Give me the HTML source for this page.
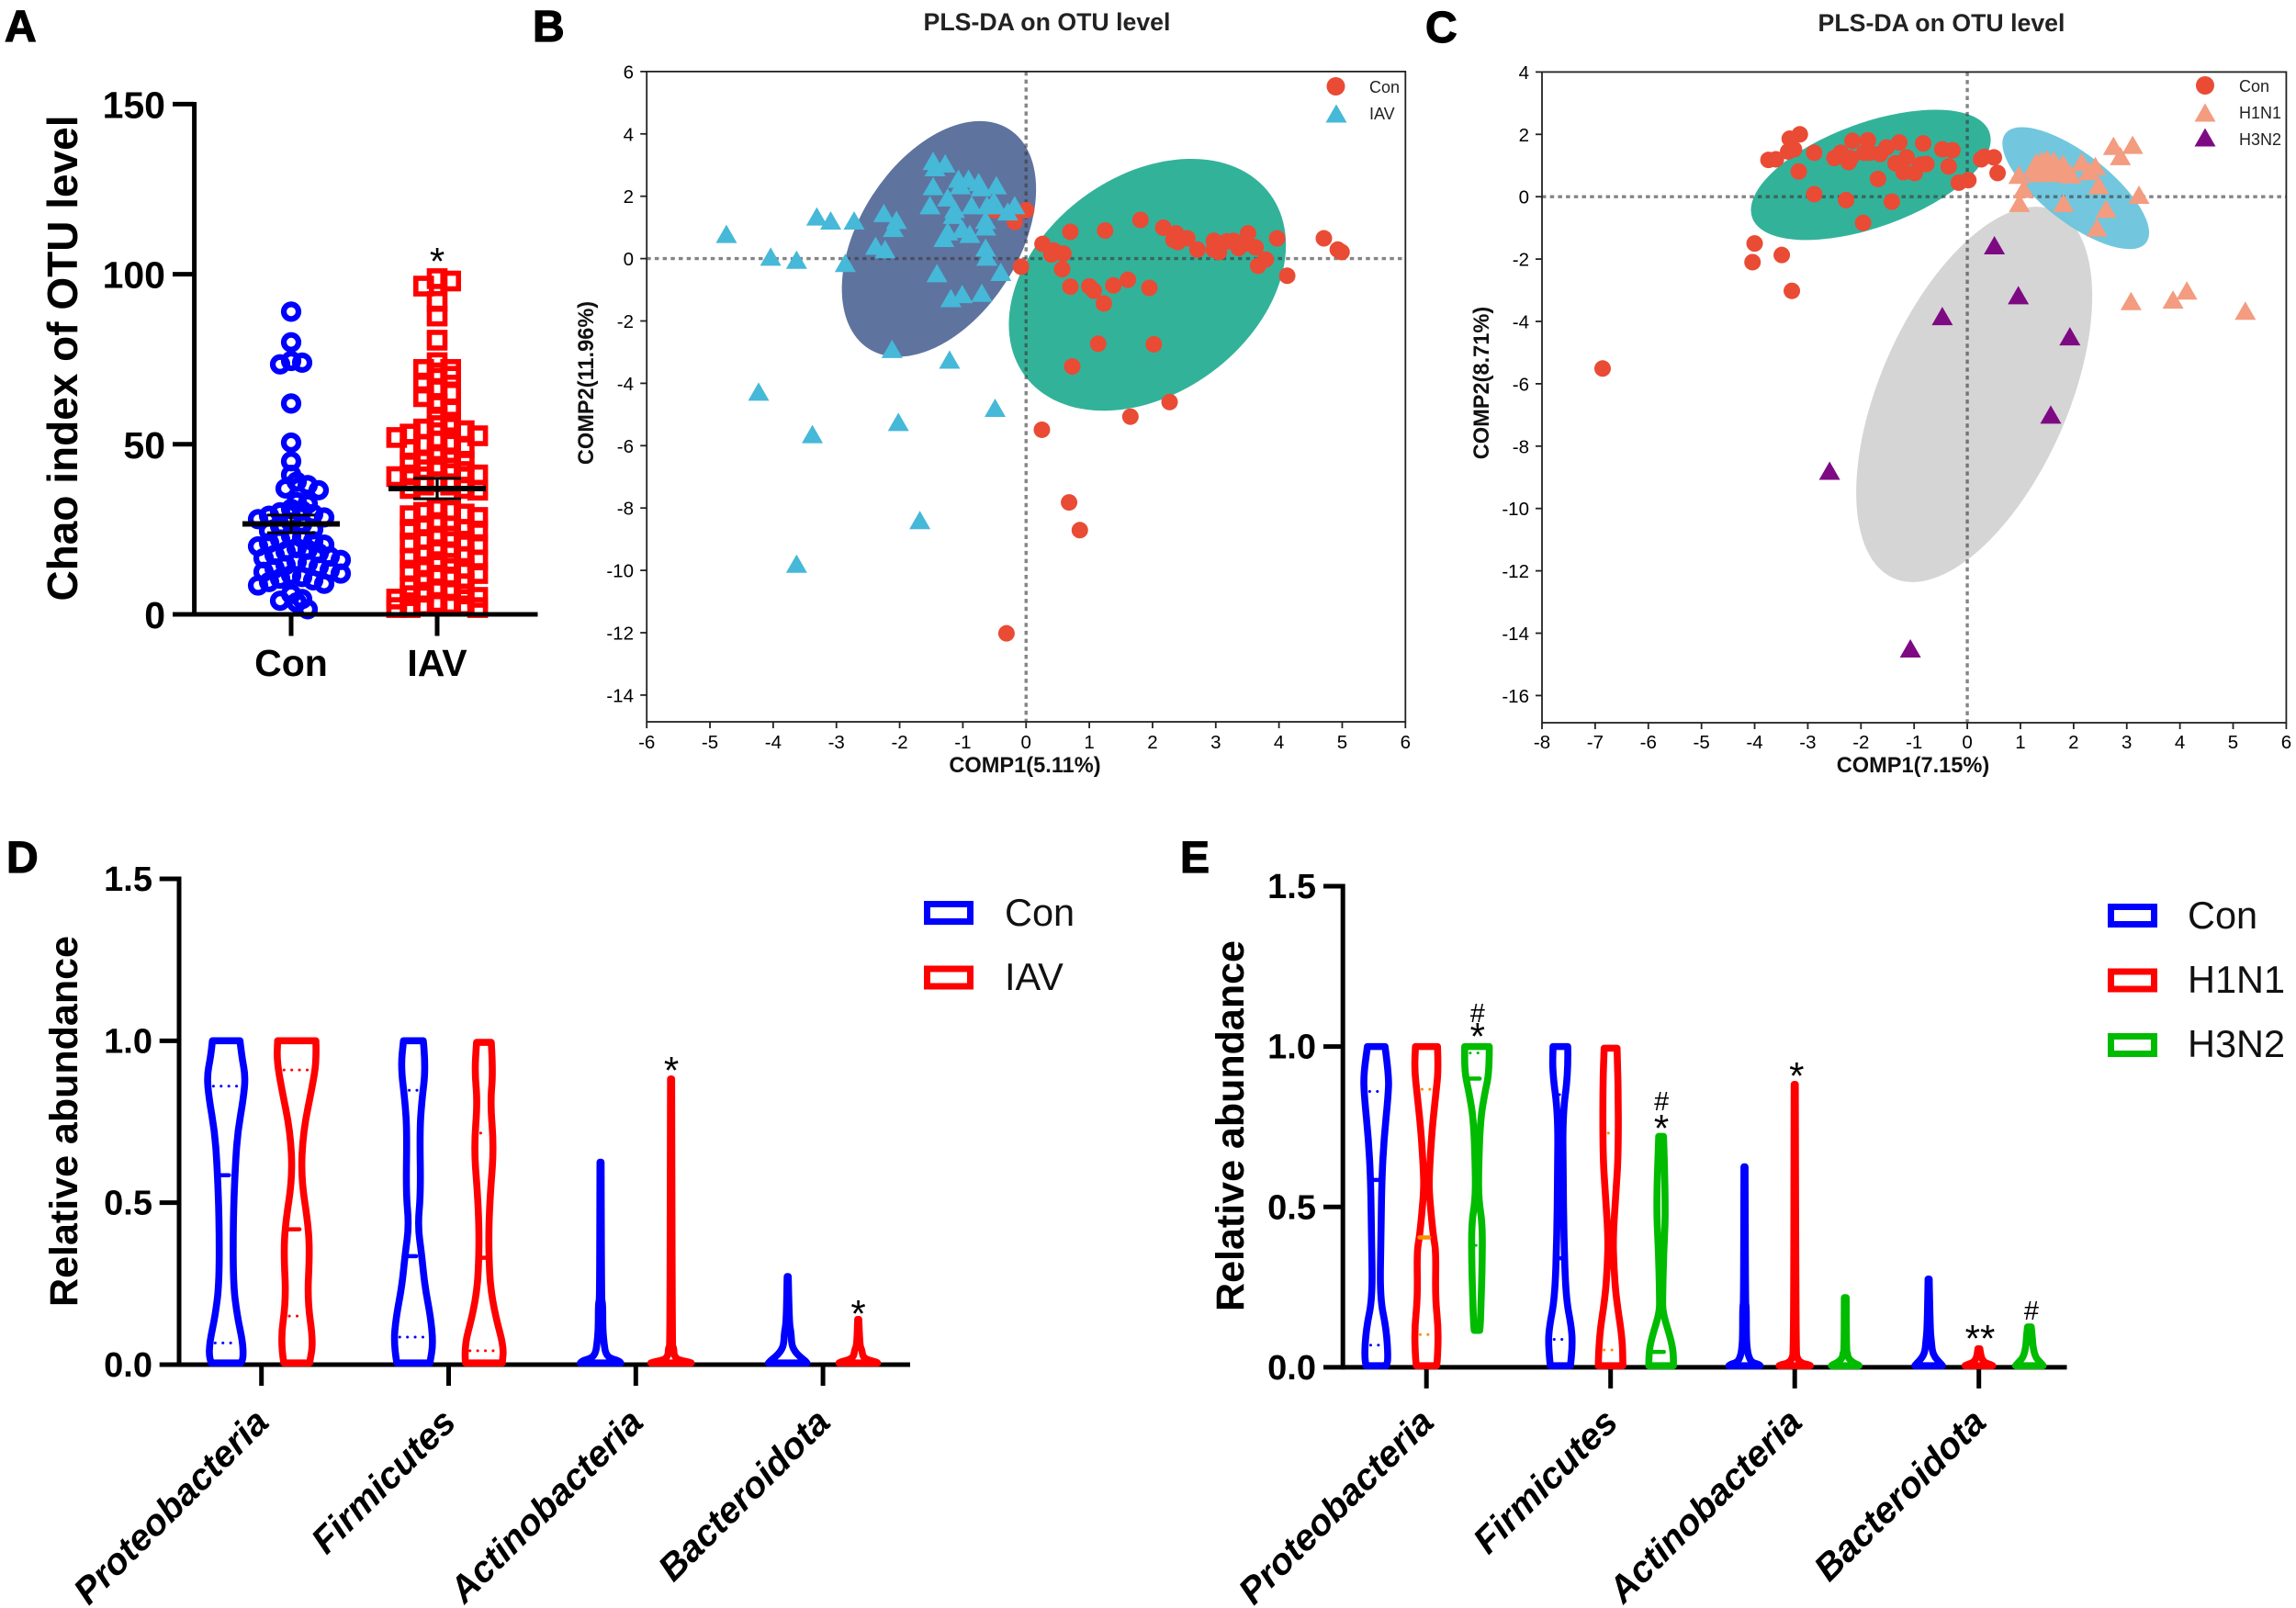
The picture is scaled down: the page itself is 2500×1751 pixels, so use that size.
<!DOCTYPE html>
<html lang="en">
<head>
<meta charset="utf-8">
<title>Chao index, PLS-DA and relative abundance panels</title>
<style>
html,body{margin:0;padding:0;background:#fff;}
svg{display:block;font-family:"Liberation Sans",Arial,sans-serif;}
.pl{font-size:48px;font-weight:bold;stroke:#000;stroke-width:1.2px;}
.ttl{font-size:26.7px;font-weight:bold;fill:#222;text-anchor:middle;}
.cl{font-size:23.6px;font-weight:bold;fill:#111;text-anchor:middle;}
.lg{font-size:18px;fill:#222;}
.lgb{font-size:41.5px;fill:#111;}
.yt{font-weight:bold;fill:#000;text-anchor:middle;}
.cat{font-size:40px;font-weight:bold;font-style:italic;fill:#000;text-anchor:end;}
</style>
</head>
<body>
<svg id="fig" width="2500" height="1751" viewBox="0 0 2500 1751" xmlns="http://www.w3.org/2000/svg">
  <rect width="2500" height="1751" fill="#fff"/>

  <text class="pl" x="5" y="45">A</text>
  <text class="pl" x="580" y="45">B</text>
  <text class="pl" x="1552" y="46">C</text>
  <text class="pl" x="7" y="950">D</text>
  <text class="pl" x="1285" y="950">E</text>

  <g id="panelA">
    <text class="yt" font-size="46" transform="translate(84,390) rotate(-90)">Chao index of OTU level</text>
  </g>

  <g id="panelB">
    <text class="ttl" x="1140" y="33">PLS-DA on OTU level</text>
    <text class="cl" x="1116" y="841">COMP1(5.11%)</text>
    <text class="cl" transform="translate(646,417) rotate(-90)">COMP2(11.96%)</text>
  </g>

  <g id="panelC">
    <text class="ttl" x="2114" y="34">PLS-DA on OTU level</text>
    <text class="cl" x="2083" y="841">COMP1(7.15%)</text>
    <text class="cl" transform="translate(1621,417) rotate(-90)">COMP2(8.71%)</text>
  </g>

  <g id="panelD">
    <text class="yt" font-size="43" transform="translate(84,1221) rotate(-90)">Relative abundance</text>
  </g>

  <g id="panelE">
    <text class="yt" font-size="43" transform="translate(1354,1226) rotate(-90)">Relative abundance</text>
  </g>
</svg>

<script>
/* ---------- Panel A data ---------- */
const aCategories = ['Con', 'IAV'];
const aTicks = [0, 50, 100, 150];
const aConValues = [89,80,74.5,74,73.5,62,50.5,45,41,39,38,37,36.5,33,32.5,
  31,30.5,30,29.5,29,28.5,28,27,26.5,26,25,24.5,
  23,22.5,22,21.5,21,20.5,20,19.5,19,18.5,18,17.5,17,16.5,16,
  15.5,15,14.5,14,13.5,13,12.5,12,11.5,11,10.5,10,9.5,9,8.5,6,4.5,4,3.5,1.5];
const aIavValues = [98.7,98,96.5,92,87.7,80.6,74,72,72,71,70,68,66,65,64,62,60,58,56.5,
  55.5,55,54.5,54,53,52.5,52,51,50,50,49,48.5,47,46,45,45,44.5,
  43.5,43,42.5,42,41,41,40.5,39,38,38,37,37,36.5,
  31,30.5,30,29.5,29,28.5,27,26,26,25,25,24.5,23,23,22,21.5,21,20.5,
  19,18,17.5,17,16.5,16,15.5,15,14,13.5,13,12,11.5,11,10,9,8,
  7.5,7,6.5,6,5.5,5,4.5,3.5,3,2.5,2.5,2,2,2];
const aMeans = [26.6, 37];
const aErrors = [2.6, 3];

/* ---------- Panel B data ---------- */
const bTicksX = [-6,-5,-4,-3,-2,-1,0,1,2,3,4,5,6];
const bTicksY = [6,4,2,0,-2,-4,-6,-8,-10,-12,-14];
const bConPoints = [[0,1.55],[-.5,1.55],[-.18,1.18],[.26,.47],[.44,.26],[.4,.13],[.59,.16],[.7,.86],[1.25,.9],[1.81,1.24],[2.17,.99],[2.37,.81],[2.33,.6],[2.4,.53],[2.55,.65],[2.71,.29],[2.97,.57],[2.97,.29],[3.05,.21],[3.17,.55],[3.28,.57],[3.36,.34],[3.43,.45],[3.51,.81],[3.63,.36],[3.97,.65],[3.79,-.03],[3.67,-.23],[4.13,-.55],[4.71,.65],[4.93,.29],[4.99,.21],[-.08,-.26],[.57,-.34],[.7,-.9],[1,-.89],[1.07,-1.03],[1.38,-.86],[1.61,-.68],[1.95,-.94],[1.23,-1.44],[1.14,-2.73],[2.02,-2.75],[.73,-3.46],[2.27,-4.6],[1.65,-5.07],[.25,-5.49],[.68,-7.82],[.85,-8.71],[-.31,-12.02]];
const bIavPoints = [[-4.74,.78],[-4.04,.05],[-3.63,-.05],[-3.31,1.34],[-3.09,1.21],[-2.72,1.21],[-2.86,-.15],[-2.38,.4],[-2.23,.29],[-2.25,1.45],[-2.05,1.23],[-2.1,.97],[-1.52,1.7],[-1.47,2.31],[-1.47,3.12],[-1.44,2.92],[-1.28,3.04],[-1.24,1.95],[-1.07,2.55],[-1.04,2.34],[-.91,2.55],[-.75,2.44],[-.71,2.28],[-.47,2.34],[-.86,1.7],[-.62,1.7],[-.51,1.83],[-.47,1.7],[-.29,1.5],[-.18,1.7],[-1.13,1.58],[-1.15,1.39],[-.64,1.23],[-.64,1.02],[-1.01,.94],[-1.24,.86],[-1.3,.65],[-.89,.78],[-.64,.34],[-.62,.05],[-.4,-.44],[-1.41,-.48],[-1.19,-1.28],[-1.01,-1.15],[-.7,-1.11],[-2.12,-2.91],[-1.21,-3.25],[-4.23,-4.28],[-2.02,-5.25],[-.49,-4.8],[-3.38,-5.64],[-1.68,-8.4],[-3.63,-9.8]];
/* confidence ellipse extents: xmin, xmax, ymin, ymax, x at ymax */
const bIavEllipse = [-2.914, .158, -3.15, 4.41, -.73];
const bConEllipse = [-.273, 4.11, -4.88, 3.2, 2.61];

/* ---------- Panel C data ---------- */
const cTicksX = [-8,-7,-6,-5,-4,-3,-2,-1,0,1,2,3,4,5,6];
const cTicksY = [4,2,0,-2,-4,-6,-8,-10,-12,-14,-16];
const cConPoints = [[-6.86,-5.51],[-4.04,-2.1],[-4,-1.5],[-3.49,-1.87],[-3.3,-3.02],[-3.74,1.18],[-3.6,1.2],[-3.34,1.86],[-3.15,2],[-3.37,1.45],[-3.26,1.52],[-3.17,.81],[-2.88,1.41],[-2.88,.08],[-2.5,1.24],[-2.38,1.41],[-2.23,1.11],[-2.19,1.24],[-2.16,1.79],[-2.28,-.11],[-1.87,1.81],[-1.94,1.41],[-1.83,1.41],[-1.64,1.37],[-1.52,1.58],[-1.28,1.74],[-1.68,.57],[-1.96,-.84],[-1.42,-.16],[-1.35,1.07],[-1.14,1.26],[-1.2,.79],[-.99,.76],[-.88,1.03],[-.77,1.05],[-.83,1.71],[-.47,1.52],[-.28,1.49],[-.35,.97],[-.16,.45],[.02,.53],[.26,1.2],[.32,1.28],[.5,1.26],[.57,.76]];
const cH1n1Points = [[2.75,1.62],[3.11,1.65],[2.88,1.29],[.97,.69],[1.06,.24],[.98,-.21],[3.23,.05],[1.81,-.21],[2.61,-.4],[2.44,-1],[2.47,.36],[2.41,.97],[2.15,1.1],[2.29,.81],[1.24,.9],[1.3,1.1],[1.4,1.15],[1.5,1.2],[1.55,.95],[1.63,1.15],[1.7,.85],[1.8,1.05],[1.85,.75],[1.95,.7],[1.45,.8],[1.3,.75],[1.6,.75],[3.08,-3.36],[3.87,-3.31],[4.13,-3.02],[5.23,-3.67]];
const cH3n2Points = [[.51,-1.57],[.96,-3.17],[-.47,-3.84],[1.93,-4.49],[1.57,-7],[-2.59,-8.8],[-1.07,-14.5]];
const cGreyEllipse = [-2.09, 2.35, -12.36, -.32, 1.29];
const cTealEllipse = [-4.07, .44, -1.39, 2.79, -.6];
const cBlueEllipse = [.66, 3.42, -1.68, 2.23, 1.03];

/* ---------- Violin panels: [abundance, density] ---------- */
const abundanceTicks = [0, .5, 1, 1.5];
const abundanceTickLabels = ['0.0', '0.5', '1.0', '1.5'];
const phyla = ['Proteobacteria', 'Firmicutes', 'Actinobacteria', 'Bacteroidota'];

const dConProteo = [[1,.75],[.95,.85],[.89,1.05],[.82,.93],[.72,.63],[.62,.5],[.45,.38],[.25,.38],[.15,.6],[.07,.9],[.02,.93],[.005,.8]];
const dIavProteo = [[1,1.04],[.94,1.08],[.86,.85],[.72,.35],[.58,.23],[.43,.63],[.34,.7],[.2,.58],[.07,.9],[.005,.7]];
const dConFirm = [[1,.54],[.92,.68],[.81,.45],[.72,.35],[.53,.4],[.43,.24],[.34,.45],[.24,.63],[.15,.93],[.065,1.08],[.005,.9]];
const dIavFirm = [[.995,.4],[.905,.5],[.81,.35],[.67,.54],[.53,.35],[.43,.27],[.34,.27],[.24,.35],[.15,.63],[.055,1.08],[.005,1]];
const dConActino = [[.625,.03],[.2,.05],[.19,.12],[.11,.12],[.06,.2],[.035,.28],[.02,.5],[.012,1],[.005,1.1]];
const dIavActino = [[.882,.03],[.06,.06],[.05,.15],[.03,.15],[.015,.35],[.008,1],[.005,1.1]];
const dConBact = [[.272,.03],[.13,.08],[.1,.18],[.06,.22],[.04,.4],[.025,.65],[.012,.95],[.005,1.05]];
const dIavBact = [[.14,.03],[.06,.08],[.045,.2],[.025,.25],[.015,.5],[.008,1],[.005,1.05]];
/* q3, median, q1 */
const dConStats = [[.86,.585,.067],[.847,.335,.085],null,null];
const dIavStats = [[.91,.418,.15],[.715,.33,.043],null,null];

const eConProteo = [[1,.48],[.91,.69],[.846,.65],[.71,.42],[.58,.3],[.41,.26],[.217,.2],[.12,.55],[.026,.65],[.005,.55]];
const eH1Proteo = [[1,.6],[.93,.65],[.856,.52],[.74,.3],[.6,.15],[.55,.15],[.48,.25],[.407,.38],[.36,.52],[.217,.48],[.12,.65],[.026,.6],[.005,.55]];
const eH3Proteo = [[1,.67],[.92,.67],[.856,.43],[.77,.18],[.6,.08],[.52,.1],[.445,.3],[.31,.28],[.217,.23],[.14,.19],[.115,.15]];
const eConFirm = [[1,.4],[.92,.43],[.79,.13],[.6,.15],[.41,.19],[.217,.3],[.12,.62],[.064,.65],[.005,.55]];
const eH1Firm = [[.995,.35],[.885,.42],[.665,.42],[.55,.3],[.407,.13],[.31,.18],[.217,.3],[.09,.64],[.005,.67]];
const eH3Firm = [[.72,.13],[.5,.26],[.36,.14],[.217,.08],[.17,.09],[.09,.52],[.045,.67],[.005,.67]];
const eConActino = [[.625,.03],[.2,.05],[.19,.1],[.09,.1],[.05,.16],[.03,.25],[.015,.4],[.01,.75],[.005,.85]];
const eH1Actino = [[.882,.03],[.05,.06],[.025,.15],[.012,.4],[.008,.75],[.005,.85]];
const eH3Actino = [[.217,.05],[.05,.06],[.045,.12],[.03,.15],[.015,.4],[.008,.7],[.005,.75]];
const eConBact = [[.275,.03],[.12,.08],[.08,.15],[.05,.2],[.03,.35],[.015,.6],[.005,.75]];
const eH1Bact = [[.058,.05],[.03,.12],[.015,.3],[.008,.65],[.005,.75]];
const eH3Bact = [[.126,.1],[.1,.15],[.06,.2],[.03,.35],[.015,.6],[.005,.75]];
const eConStats = [[.86,.584,.069],[.85,.34,.087],null,null];
const eH1Stats = [[.867,.405,.102],[.73,null,.054],null,null];
const eH3Stats = [[.98,.9,.38],[null,.048,null],null,null];

/* ---------- helpers ---------- */
const NS = 'http://www.w3.org/2000/svg';
function mk(tag, attrs, parent) {
  const el = document.createElementNS(NS, tag);
  for (const k in attrs) el.setAttribute(k, attrs[k]);
  parent.appendChild(el);
  return el;
}
const linear = (d0, d1, r0, r1) => v => r0 + (v - d0) * (r1 - r0) / (d1 - d0);
const $ = id => document.getElementById(id);

function tickLabel(parent, x, y, str, size, weight, anchor) {
  const t = mk('text', {x: x, y: y, 'font-size': size, 'font-weight': weight, 'text-anchor': anchor, fill: '#000'}, parent);
  t.textContent = str;
  return t;
}

/* ---------- swarm layout for panel A ---------- */
function swarm(values, binSize, step, maxSteps, centreEven) {
  const bins = {};
  const out = [];
  values.forEach(v => {
    const b = Math.floor(v / binSize);
    bins[b] = (bins[b] || 0) + 1;
    const i = (bins[b] - 1) % (2 * maxSteps + 1);
    out.push({v: v, off: (i % 2 ? 1 : -1) * ((i + 1) >> 1) * step, bin: b});
  });
  return out.map(p => {
    const even = centreEven && bins[p.bin] % 2 === 0 && bins[p.bin] <= 2 * maxSteps;
    return {v: p.v, off: p.off + (even ? step / 2 : 0)};
  });
}

/* ---------- Panel A ---------- */
(function () {
  const g = $('panelA');
  const y = linear(0, 150, 669, 113.4);
  const x = i => 317 + i * 159;

  swarm(aConValues, 4, 12, 4, true).forEach(p => {
    const c = mk('circle', {cx: x(0) + p.off, cy: y(p.v), r: 8, fill: 'none', stroke: '#0000FF', 'stroke-width': 6.2}, g);
    
    
  });
  swarm(aIavValues, 4, 14.7, 3, false).forEach(p => {
    const s = mk('rect', {x: x(1) + p.off - 8.5, y: y(p.v) - 8.5, width: 17, height: 17, fill: 'none', stroke: '#FF0000', 'stroke-width': 5.6}, g);
    
    
  });

  aMeans.forEach((m, i) => {
    const mean = mk('line', {x1: x(i) - 53, x2: x(i) + 53, y1: y(m), y2: y(m), stroke: '#000', 'stroke-width': 6}, g);
    
    
    const up = y(m + aErrors[i]);
    const dn = y(m - aErrors[i]);
    const stem = mk('line', {x1: x(i), x2: x(i), y1: up, y2: dn, stroke: '#000', 'stroke-width': 3.2}, g);
    
    
    [up, dn].forEach(v => {
      const cap = mk('line', {x1: x(i) - 26, x2: x(i) + 26, y1: v, y2: v, stroke: '#000', 'stroke-width': 3}, g);
      
      
    });
  });

  const ya = mk('line', {x1: 211.6, x2: 211.6, y1: 111, y2: 671.5, stroke: '#000', 'stroke-width': 5}, g);
  
  
  const xa = mk('line', {x1: 209, x2: 585.5, y1: 669, y2: 669, stroke: '#000', 'stroke-width': 5}, g);
  
  

  aTicks.forEach(v => {
    const t = mk('line', {x1: 188, x2: 211, y1: y(v), y2: y(v), stroke: '#000', 'stroke-width': 5}, g);
    
    
    const l = tickLabel(g, 180, y(v) + 15, String(v), 41, 'bold', 'end');
    
    
  });
  aCategories.forEach((c, i) => {
    const t = mk('line', {x1: x(i), x2: x(i), y1: 669, y2: 692.5, stroke: '#000', 'stroke-width': 5}, g);
    
    
    const l = tickLabel(g, x(i), 736, c, 41, 'bold', 'middle');
    
    
  });
  const star = tickLabel(g, x(1), 299, '*', 42, 'normal', 'middle');
  
  
})();

/* ---------- scatter helpers ---------- */
function ellipseAttrs(sx, sy, e, fill, opacity) {
  const cx = (sx(e[0]) + sx(e[1])) / 2;
  const cy = (sy(e[2]) + sy(e[3])) / 2;
  const hw = Math.abs(sx(e[1]) - sx(e[0])) / 2;
  const hh = Math.abs(sy(e[3]) - sy(e[2])) / 2;
  const top = sx(e[4]) - cx;
  const cxx = hw * hw, cyy = hh * hh, cxy = top * hh;
  const tr = cxx + cyy;
  const root = Math.sqrt(Math.max(0, (cxx - cyy) * (cxx - cyy) + 4 * cxy * cxy));
  const rx = Math.sqrt((tr + root) / 2);
  const ry = Math.sqrt(Math.max(1, (tr - root) / 2));
  const deg = 0.5 * Math.atan2(2 * cxy, cxx - cyy) * 180 / Math.PI;
  return {cx: cx, cy: cy, rx: rx, ry: ry, transform: 'rotate(' + (-deg) + ' ' + cx + ' ' + cy + ')', fill: fill, 'fill-opacity': opacity};
}
function triPoints(px, py) {
  return (px - 11.5) + ',' + (py + 9.5) + ' ' + (px + 11.5) + ',' + (py + 9.5) + ' ' + px + ',' + (py - 10.5);
}
function drawFrame(g, box, sx, sy, ticksX, ticksY, xLabelBase, yLabelX) {
  const f = mk('rect', {x: box.l, y: box.t, width: box.r - box.l, height: box.b - box.t, fill: 'none', stroke: '#222', 'stroke-width': 1.8}, g);
  
  
  ticksX.forEach(v => {
    const t = mk('line', {x1: sx(v), x2: sx(v), y1: box.b, y2: box.b + 7, stroke: '#222', 'stroke-width': 1.8}, g);
    
    
    const l = tickLabel(g, sx(v), xLabelBase, String(v), 20.5, 'normal', 'middle');
    
    
  });
  ticksY.forEach(v => {
    const t = mk('line', {x1: box.l - 7, x2: box.l, y1: sy(v), y2: sy(v), stroke: '#222', 'stroke-width': 1.8}, g);
    
    
    const l = tickLabel(g, yLabelX, sy(v) + 7.5, String(v), 20.5, 'normal', 'end');
    
    
  });
}
function drawZeroLines(g, box, sx, sy) {
  const h = mk('line', {x1: box.l, x2: box.r, y1: sy(0), y2: sy(0), stroke: '#3a3a3a', 'stroke-opacity': .62, 'stroke-width': 3.4, 'stroke-dasharray': '4.5 4.2'}, g);
  
  
  const v = mk('line', {x1: sx(0), x2: sx(0), y1: box.t, y2: box.b, stroke: '#3a3a3a', 'stroke-opacity': .62, 'stroke-width': 3.4, 'stroke-dasharray': '4.5 4.2'}, g);
  
  
}

/* ---------- Panel B ---------- */
(function () {
  const g = $('panelB');
  const box = {l: 704.2, r: 1530.3, t: 77.9, b: 786};
  const sx = linear(-6, 6, 704.2, 1530.3);
  const sy = linear(6, -14, 77.9, 756.9);

  const e1 = mk('ellipse', ellipseAttrs(sx, sy, bIavEllipse, '#5F739F', 1), g);
  
  
  const e2 = mk('ellipse', ellipseAttrs(sx, sy, bConEllipse, '#33B29A', 1), g);
  
  

  drawZeroLines(g, box, sx, sy);
  drawFrame(g, box, sx, sy, bTicksX, bTicksY, 815, 690);

  bConPoints.forEach(p => {
    const c = mk('circle', {cx: sx(p[0]), cy: sy(p[1]), r: 9, fill: '#E94B35'}, g);
    
    
  });
  bIavPoints.forEach(p => {
    const t = mk('polygon', {points: triPoints(sx(p[0]), sy(p[1])), fill: '#46B8D8'}, g);
    
    
  });

  const lc = mk('circle', {cx: 1454.5, cy: 94, r: 10, fill: '#E94B35'}, g);
  
  
  const lt = mk('polygon', {points: triPoints(1455, 124), fill: '#46B8D8'}, g);
  
  
  const tc = mk('text', {x: 1491, y: 101, class: 'lg'}, g);
  tc.textContent = 'Con';
  
  
  const ti = mk('text', {x: 1491, y: 130, class: 'lg'}, g);
  ti.textContent = 'IAV';
  
  
})();

/* ---------- Panel C ---------- */
(function () {
  const g = $('panelC');
  const box = {l: 1679, r: 2489.4, t: 78.4, b: 787};
  const sx = linear(-8, 6, 1679, 2489.4);
  const sy = linear(4, -16, 78.4, 757.4);

  const e0 = mk('ellipse', ellipseAttrs(sx, sy, cGreyEllipse, '#D5D5D5', 1), g);
  
  
  const e1 = mk('ellipse', ellipseAttrs(sx, sy, cTealEllipse, '#33B29A', 1), g);
  
  
  const e2 = mk('ellipse', ellipseAttrs(sx, sy, cBlueEllipse, '#6AC4DC', .95), g);
  
  

  drawZeroLines(g, box, sx, sy);
  drawFrame(g, box, sx, sy, cTicksX, cTicksY, 815, 1665);

  cConPoints.forEach(p => {
    const c = mk('circle', {cx: sx(p[0]), cy: sy(p[1]), r: 9, fill: '#E94B35'}, g);
    
    
  });
  cH1n1Points.forEach(p => {
    const t = mk('polygon', {points: triPoints(sx(p[0]), sy(p[1])), fill: '#F39C80'}, g);
    
    
  });
  cH3n2Points.forEach(p => {
    const t = mk('polygon', {points: triPoints(sx(p[0]), sy(p[1])), fill: '#7E0A83'}, g);
    
    
  });

  const lc = mk('circle', {cx: 2401, cy: 93, r: 10, fill: '#E94B35'}, g);
  
  
  const l1 = mk('polygon', {points: triPoints(2401, 123), fill: '#F39C80'}, g);
  
  
  const l3 = mk('polygon', {points: triPoints(2401, 150), fill: '#7E0A83'}, g);
  
  
  const tc = mk('text', {x: 2438, y: 100, class: 'lg'}, g);
  tc.textContent = 'Con';
  
  
  const t1 = mk('text', {x: 2438, y: 129, class: 'lg'}, g);
  t1.textContent = 'H1N1';
  
  
  const t3 = mk('text', {x: 2438, y: 158, class: 'lg'}, g);
  t3.textContent = 'H3N2';
  
  
})();

/* ---------- Violin helpers ---------- */
const DENSITY_PX = 20;
function violinPath(profile, cx, y) {
  const right = profile.map(p => [cx + p[1] * DENSITY_PX, y(p[0])]);
  const left = profile.map(p => [cx - p[1] * DENSITY_PX, y(p[0])]).reverse();
  const side = pts => {
    let s = '';
    for (let i = 1; i < pts.length - 1; i++) {
      const mx = (pts[i][0] + pts[i + 1][0]) / 2;
      const my = (pts[i][1] + pts[i + 1][1]) / 2;
      s += 'Q' + pts[i][0] + ' ' + pts[i][1] + ' ' + mx + ' ' + my;
    }
    return s + 'L' + pts[pts.length - 1][0] + ' ' + pts[pts.length - 1][1];
  };
  return 'M' + right[0][0] + ' ' + right[0][1] + side(right) + 'L' + left[0][0] + ' ' + left[0][1] + side(left) + 'Z';
}
function halfWidth(profile, v) {
  for (let i = 0; i < profile.length - 1; i++) {
    const a = profile[i], b = profile[i + 1];
    if (v <= a[0] && v >= b[0]) {
      return (a[1] + (b[1] - a[1]) * (a[0] - v) / (a[0] - b[0])) * DENSITY_PX;
    }
  }
  return 0;
}
function drawViolinAxes(g, layout, y) {
  const ya = mk('line', {x1: layout.axisX, x2: layout.axisX, y1: y(1.5) - 2.5, y2: y(0) + 2.5, stroke: '#000', 'stroke-width': 5}, g);
  
  
  const xa = mk('line', {x1: layout.axisX, x2: layout.axisEnd, y1: y(0), y2: y(0), stroke: '#000', 'stroke-width': 5}, g);
  
  
  abundanceTicks.forEach((v, i) => {
    const t = mk('line', {x1: layout.tickLeft, x2: layout.axisX, y1: y(v), y2: y(v), stroke: '#000', 'stroke-width': 5}, g);
    
    
    const l = tickLabel(g, layout.labelRight, y(v) + 13, abundanceTickLabels[i], 38, 'bold', 'end');
    
    
  });
  phyla.forEach((name, i) => {
    const x = layout.cat(i);
    const t = mk('line', {x1: x, x2: x, y1: y(0), y2: y(0) + 23, stroke: '#000', 'stroke-width': 5}, g);
    
    
    const l = mk('text', {class: 'cat', transform: 'translate(' + (x + 10) + ',' + layout.labelY + ') rotate(-45)'}, g);
    l.textContent = name;
    
    
  });
}
function drawViolin(g, profile, cx, y, color, stat, statColor) {
  const v = mk('path', {d: violinPath(profile, cx, y), fill: 'none', stroke: color, 'stroke-width': 7.6, 'stroke-linejoin': 'round'}, g);
  
  
  if (!stat) return;
  [stat[0], stat[2]].forEach(q => {
    if (q === null) return;
    const hw = Math.max(1, halfWidth(profile, q) - 6);
    const d = mk('line', {x1: cx - hw, x2: cx + hw, y1: y(q), y2: y(q), stroke: statColor, 'stroke-width': 3, 'stroke-linecap': 'round', 'stroke-dasharray': '0.1 8.3'}, g);
    
    
  });
  if (stat[1] === null) return;
  const hwm = halfWidth(profile, stat[1]);
  const m = mk('line', {x1: cx - hwm, x2: cx + Math.min(hwm, 3), y1: y(stat[1]), y2: y(stat[1]), stroke: statColor, 'stroke-width': 4.5, 'stroke-linecap': 'round'}, g);
  
  
}

/* ---------- Panel D ---------- */
(function () {
  const g = $('panelD');
  const y = linear(0, 1.5, 1486, 957);
  const layout = {axisX: 195, axisEnd: 991, tickLeft: 173.7, labelRight: 166, labelY: 1551, cat: i => 284.7 + i * 203.8};
  drawViolinAxes(g, layout, y);
  const conViolins = [dConProteo, dConFirm, dConActino, dConBact];
  const iavViolins = [dIavProteo, dIavFirm, dIavActino, dIavBact];
  conViolins.forEach((p, i) => drawViolin(g, p, layout.cat(i) - 38.4, y, '#0000FF', dConStats[i], '#0000FF'));
  iavViolins.forEach((p, i) => drawViolin(g, p, layout.cat(i) + 38.4, y, '#FF0000', dIavStats[i], '#FF0000'));

  [[1009.5, 984.5, '#0000FF'], [1009.5, 1055, '#FF0000']].forEach(r => {
    const s = mk('rect', {x: r[0], y: r[1], width: 47, height: 19, fill: 'none', stroke: r[2], 'stroke-width': 7}, g);
    
    
  });
  const a = mk('text', {x: 1094, y: 1008, class: 'lgb'}, g);
  a.textContent = 'Con';
  
  
  const b = mk('text', {x: 1094, y: 1078, class: 'lgb'}, g);
  b.textContent = 'IAV';
  
  

  [[731, 1180], [934.5, 1445]].forEach(s => {
    const t = tickLabel(g, s[0], s[1], '*', 42, 'normal', 'middle');
    
    
  });
})();

/* ---------- Panel E ---------- */
(function () {
  const g = $('panelE');
  const y = linear(0, 1.5, 1488.9, 965);
  const layout = {axisX: 1462.2, axisEnd: 2250.5, tickLeft: 1441, labelRight: 1433, labelY: 1551, cat: i => 1553.2 + i * 200.5};
  drawViolinAxes(g, layout, y);
  const conViolins = [eConProteo, eConFirm, eConActino, eConBact];
  const h1Violins = [eH1Proteo, eH1Firm, eH1Actino, eH1Bact];
  const h3Violins = [eH3Proteo, eH3Firm, eH3Actino, eH3Bact];
  conViolins.forEach((p, i) => drawViolin(g, p, layout.cat(i) - 54.7, y, '#0000FF', eConStats[i], '#0000FF'));
  h1Violins.forEach((p, i) => drawViolin(g, p, layout.cat(i), y, '#FF0000', eH1Stats[i], '#FF8C00'));
  h3Violins.forEach((p, i) => drawViolin(g, p, layout.cat(i) + 55, y, '#00BB00', eH3Stats[i], '#00BB00'));

  [[987.5, '#0000FF'], [1058, '#FF0000'], [1128.5, '#00BB00']].forEach(r => {
    const s = mk('rect', {x: 2298.5, y: r[0], width: 47, height: 19, fill: 'none', stroke: r[1], 'stroke-width': 7}, g);
    
    
  });
  const a = mk('text', {x: 2382, y: 1011, class: 'lgb'}, g);
  a.textContent = 'Con';
  
  
  const b = mk('text', {x: 2382, y: 1081, class: 'lgb'}, g);
  b.textContent = 'H1N1';
  
  
  const c = mk('text', {x: 2382, y: 1151, class: 'lgb'}, g);
  c.textContent = 'H3N2';
  
  

  [[1608.8, 1143, '*'], [1809, 1243, '*'], [1956.3, 1186, '*'], [2156, 1472, '**']].forEach(s => {
    const t = tickLabel(g, s[0], s[1], s[2], 42, 'normal', 'middle');
    
    
  });
  [[1608.8, 1113], [1809.2, 1209], [2212, 1437]].forEach(s => {
    const t = tickLabel(g, s[0], s[1], '#', 29, 'normal', 'middle');
    
    
  });
})();
</script>
</body>
</html>
